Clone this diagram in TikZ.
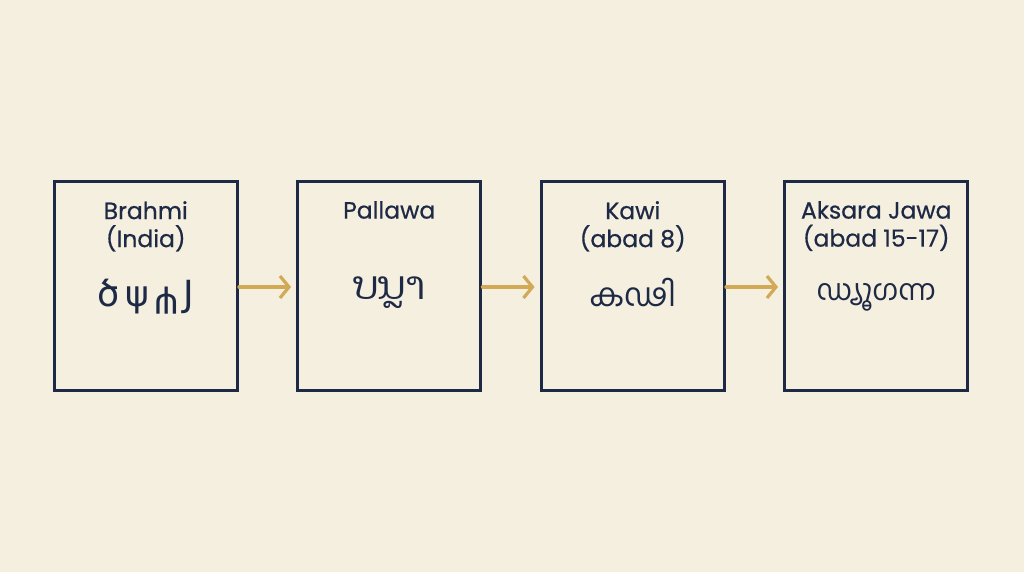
\documentclass[tikz,border=0pt]{standalone}
\usepackage{fontspec}
\setmainfont{Poppins}[FakeBold=0.6]
\newfontfamily\laofont[Script=Lao]{Dhyana}
\newfontfamily\malfont[Script=Malayalam]{Hind Kochi}
\newfontfamily\symfont{DejaVu Sans}
\usetikzlibrary{arrows.meta}
\definecolor{bg}{HTML}{F5EFDF}
\definecolor{navy}{HTML}{1E2A45}
\definecolor{gold}{HTML}{D2AA55}
\tikzset{
  scriptbox/.style={draw=navy, line width=3.4pt, minimum width=183pt, minimum height=209pt, inner sep=0pt},
  title/.style={text=navy, font=\fontsize{23.5}{28}\selectfont, align=center, inner sep=0pt, anchor=north},
  glyph/.style={text=navy, inner sep=0pt},
  flow/.style={draw=gold, line width=3.2pt, line cap=round, -{Straight Barb[length=9pt, width=22pt, line width=3.2pt]}, shorten >=5pt}
}
\begin{document}
\begin{tikzpicture}[x=1pt, y=-1pt]
\fill[bg] (0,0) rectangle (1024,572);
\useasboundingbox (0,0) rectangle (1024,572);

\node[scriptbox] (b1) at (145.75,285.75) {};
\node[scriptbox] (b2) at (389.25,285.75) {};
\node[scriptbox] (b3) at (632.75,285.75) {};
\node[scriptbox] (b4) at (876.25,285.75) {};

\node[title] (t1) at (145.75,201) {Brahmi\\(India)};
\node[title] (t2) at (389.25,201) {Pallawa};
\node[title] (t3) at (632.75,201) {Kawi\\(abad 8)};
\node[title] (t4) at (876.25,201) {Aksara Jawa\\(abad 15-17)};

\node[glyph, font=\symfont\fontsize{36}{36}\selectfont] (g1) at (145.75,297) {ծ\kern6ptψ\kern5pt\rotatebox[origin=c]{180}{ψ}\kern5ptJ};
\node[glyph, font=\laofont\fontsize{39}{39}\selectfont] (g2) at (389.25,293) {ບນຼາ};
\node[glyph, font=\malfont\fontsize{32}{32}\selectfont] (g3) at (632.75,292) {കഢി};
\node[glyph, font=\malfont\fontsize{29}{29}\selectfont] (g4) at (876.25,297) {ഡ്യൂഗന്ന};

\draw[flow] (b1.east |- 0,287) -- (b2.west |- 0,287);
\draw[flow] (b2.east |- 0,287) -- (b3.west |- 0,287);
\draw[flow] (b3.east |- 0,287) -- (b4.west |- 0,287);
\end{tikzpicture}
\end{document}
